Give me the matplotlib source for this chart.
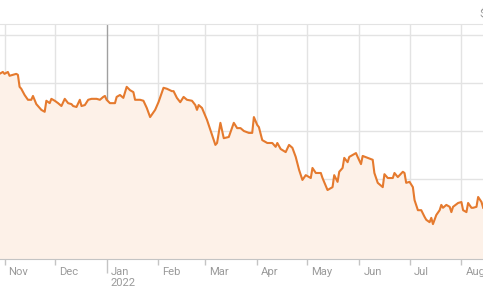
import numpy as np
import pandas as pd
import matplotlib
matplotlib.use("Agg")
import matplotlib.pyplot as plt
import matplotlib.dates as mdates
import matplotlib.transforms as mtrans

dates = ["2021-10-29", "2021-10-31", "2021-11-01", "2021-11-03", "2021-11-04", "2021-11-06",
         "2021-11-08", "2021-11-09", "2021-11-10", "2021-11-11", "2021-11-13", "2021-11-15",
         "2021-11-17", "2021-11-18", "2021-11-20", "2021-11-22", "2021-11-23", "2021-11-25",
         "2021-11-26", "2021-11-28", "2021-11-29", "2021-12-01", "2021-12-03", "2021-12-05",
         "2021-12-07", "2021-12-09", "2021-12-11", "2021-12-12", "2021-12-14", "2021-12-16",
         "2021-12-17", "2021-12-19", "2021-12-21", "2021-12-23", "2021-12-26", "2021-12-28",
         "2021-12-30", "2021-12-31", "2022-01-01", "2022-01-03", "2022-01-05", "2022-01-06",
         "2022-01-07", "2022-01-09", "2022-01-11", "2022-01-13", "2022-01-15", "2022-01-17",
         "2022-01-18", "2022-01-21", "2022-01-23", "2022-01-25", "2022-01-27", "2022-01-30",
         "2022-02-01", "2022-02-04", "2022-02-06", "2022-02-09", "2022-02-10", "2022-02-12",
         "2022-02-14", "2022-02-16", "2022-02-18", "2022-02-21", "2022-02-23", "2022-02-24",
         "2022-02-25", "2022-02-27", "2022-03-02", "2022-03-04", "2022-03-07", "2022-03-08",
         "2022-03-10", "2022-03-12", "2022-03-15", "2022-03-18", "2022-03-20", "2022-03-22",
         "2022-03-24", "2022-03-27", "2022-03-29", "2022-03-30", "2022-04-01", "2022-04-02",
         "2022-04-04", "2022-04-07", "2022-04-10", "2022-04-12", "2022-04-13", "2022-04-15",
         "2022-04-18", "2022-04-20", "2022-04-22", "2022-04-24", "2022-04-26", "2022-04-28",
         "2022-04-30", "2022-05-03", "2022-05-04", "2022-05-06", "2022-05-09", "2022-05-10",
         "2022-05-13", "2022-05-16", "2022-05-17", "2022-05-19", "2022-05-20", "2022-05-22",
         "2022-05-23", "2022-05-25", "2022-05-26", "2022-05-28", "2022-05-30", "2022-05-31",
         "2022-06-02", "2022-06-03", "2022-06-06", "2022-06-09", "2022-06-10", "2022-06-12",
         "2022-06-15", "2022-06-16", "2022-06-18", "2022-06-21", "2022-06-22", "2022-06-24",
         "2022-06-27", "2022-06-28", "2022-06-29", "2022-07-01", "2022-07-03", "2022-07-04",
         "2022-07-06", "2022-07-08", "2022-07-10", "2022-07-11", "2022-07-13", "2022-07-14",
         "2022-07-15", "2022-07-17", "2022-07-19", "2022-07-20", "2022-07-21", "2022-07-23",
         "2022-07-25", "2022-07-26", "2022-07-27", "2022-07-30", "2022-08-01", "2022-08-02",
         "2022-08-04", "2022-08-05", "2022-08-07", "2022-08-08", "2022-08-10", "2022-08-11",
         "2022-08-13", "2022-08-14"]

price = [91.9, 92.3, 91.9, 92.3, 91.5, 91.7,
         91.9, 91.7, 89.2, 88.8, 87.5, 86.5,
         86.5, 87.3, 85.6, 84.8, 84.4, 84.0,
         86.3, 85.8, 86.7, 86.3, 85.8, 85.2,
         86.7, 85.8, 85.6, 85.2, 85.0, 86.5,
         85.2, 85.4, 86.5, 86.7, 86.7, 86.5,
         87.1, 87.3, 86.5, 85.8, 85.8, 85.8,
         87.1, 87.5, 86.9, 89.2, 88.5, 88.1,
         86.5, 86.5, 86.3, 84.8, 82.9, 84.4,
         86.0, 89.0, 88.8, 88.3, 88.3, 86.9,
         86.0, 87.1, 86.5, 86.3, 85.4, 84.4,
         85.4, 84.8, 82.3, 80.2, 77.1, 77.5,
         81.7, 78.5, 78.75, 81.7, 80.6, 80.6,
         80.0, 79.6, 79.6, 82.9, 81.25, 80.8,
         78.1, 77.5, 77.5, 76.7, 77.5, 76.25,
         75.6, 77.1, 76.5, 74.6, 71.9, 69.8,
         70.8, 70.2, 72.3, 71.25, 71.25, 70.2,
         67.7, 68.3, 70.8, 69.4, 71.5, 72.3,
         74.4, 73.5, 74.6, 75.0, 75.4, 74.6,
         73.1, 74.8, 74.4, 74.0, 71.25, 69.2,
         68.3, 71.0, 70.2, 70.2, 71.25, 70.4,
         71.5, 71.25, 69.2, 69.4, 68.3, 65.6,
         63.5, 63.5, 62.1, 61.5, 61.0, 61.9,
         60.6, 62.5, 63.5, 64.6, 64.0, 64.6,
         64.2, 63.1, 64.2, 65.0, 65.2, 63.5,
         63.1, 65.0, 64.0, 64.0, 64.2, 66.25,
         65.2, 64.0]

month_ticks = ["2021-11-01", "2021-12-01", "2022-01-01", "2022-02-01", "2022-03-01",
               "2022-04-01", "2022-05-01", "2022-06-01", "2022-07-01", "2022-08-01"]
month_labels = ["Nov", "Dec", "Jan\n2022", "Feb", "Mar", "Apr", "May", "Jun", "Jul", "Aug"]
y_grid = [60, 70, 80, 90, 100]

t = pd.to_datetime(dates)
ticks = pd.to_datetime(month_ticks)

line_col = "#e57a2e"
fill_col = "#fdf1e8"
grid_col = "#e3e3e3"
text_col = "#9a9a9a"

fig = plt.figure(figsize=(4.83, 2.90), dpi=100)
ax = fig.add_axes([0, 31/290, 1, 235/290])

ax.fill_between(t, price, 0, color=fill_col, lw=0, zorder=2)
ax.plot(t, price, color=line_col, lw=1.5, zorder=3, solid_joinstyle="round")

x0 = mdates.date2num(pd.Timestamp("2021-11-01"))
ax.set_xlim(x0 - 2.7, x0 + 285.9)
ax.set_ylim(53.33, 102.29)

for v in y_grid:
    ax.axhline(v, color=grid_col, lw=1, zorder=1)
for d in ticks:
    c = "#a0a0a0" if d.month == 1 else grid_col
    ax.axvline(d, color=c, lw=1, zorder=1)

for s in ["left", "right"]:
    ax.spines[s].set_visible(False)
ax.spines["top"].set_color(grid_col)
ax.spines["bottom"].set_color("#c4c4c4")
ax.spines["bottom"].set_zorder(4)

ax.set_yticks([])
ax.set_xticks(ticks)
ax.set_xticklabels(month_labels, ha="left", va="top", fontsize=8.1, color=text_col,
                   linespacing=1.1, family="Roboto")
ax.tick_params(axis="x", length=4, width=1, color="#c4c4c4", pad=2)
# longer tick at the year change
ax.xaxis.get_major_ticks()[2].tick1line.set_markersize(10)
ax.xaxis.get_major_ticks()[2].tick1line.set_color("#a0a0a0")

off = mtrans.ScaledTranslation(4/100, 0, fig.dpi_scale_trans)
for lab in ax.get_xticklabels():
    lab.set_transform(lab.get_transform() + off)

fig.text(479/483, 1 - 14/290, "$", fontsize=8, color=text_col, ha="left", va="center",
         family="Roboto")

fig.savefig("out.png", dpi=100)
